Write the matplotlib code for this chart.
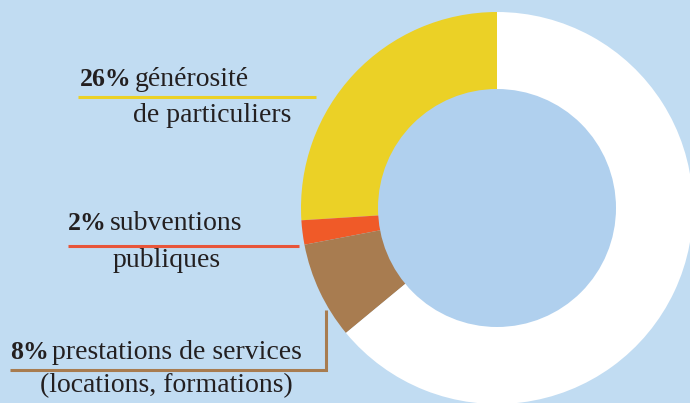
import matplotlib.pyplot as plt
from matplotlib.patches import Circle

# Donut data (share in %), drawn from the top, going counter-clockwise
categories = ['générosité de particuliers', 'subventions publiques',
              'prestations de services', 'autres']
values = [26, 2, 8, 64]
colors = ['#ebd126', '#f05a28', '#a87c50', '#ffffff']

# label lines: bold percentage, rest of first line, second line
pct_labels = ['26%', '2%', '8%']
line1 = ['générosité', 'subventions', 'prestations de services']
line2 = ['de particuliers', 'publiques', '(locations, formations)']

BG = '#c1dcf2'
INNER = '#b0d0ee'
TEXT = '#231f20'
FONT = 'Liberation Serif'

W, H = 690, 403
fig = plt.figure(figsize=(W / 100, H / 100), dpi=100)
fig.patch.set_facecolor(BG)
ax = fig.add_axes([0, 0, 1, 1])
ax.set_facecolor(BG)

# pixel-like coordinates, y going down
cx, cy, r_out, r_in = 497, 208, 196, 119
ax.pie(values, colors=colors, center=(cx, cy), radius=r_out,
       startangle=-90, counterclock=False,
       wedgeprops=dict(linewidth=0))
ax.add_patch(Circle((cx, cy), r_in, facecolor=INNER, edgecolor='none'))

ax.set_xlim(0, W)
ax.set_ylim(H, 0)
ax.set_aspect('equal')
ax.axis('off')

# text layout per label: (x of first line, baseline 1, x of second line, baseline 2)
text_pos = [(80, 86, 133, 122), (68, 230, 113, 267), (10, 359, 40, 392)]
line_cols = ['#ebd126', '#e8553a', '#a87c50']
fs = 20

fig.canvas.draw()
renderer = fig.canvas.get_renderer()
inv = ax.transData.inverted()
for pct, t1, t2, (x1, y1, x2, y2) in zip(pct_labels, line1, line2, text_pos):
    b = ax.text(x1, y1, pct, fontsize=fs - 1.5, fontweight='bold', family=FONT,
                color=TEXT, va='baseline', ha='left')
    bb = b.get_window_extent(renderer)
    xr = inv.transform((bb.x1, bb.y0))[0]
    ax.text(xr + 3, y1, t1, fontsize=fs, family=FONT, color=TEXT,
            va='baseline', ha='left')
    ax.text(x2, y2, t2, fontsize=fs, family=FONT, color=TEXT,
            va='baseline', ha='left')

# underline rules linking the labels to the ring
ax.plot([78, 316], [97, 97], color=line_cols[0], lw=2.2, solid_capstyle='butt')
ax.plot([68, 299], [246, 246], color=line_cols[1], lw=2.2, solid_capstyle='butt')
ax.plot([10, 326, 326], [370, 370, 310], color=line_cols[2], lw=2.2,
        solid_capstyle='butt', solid_joinstyle='miter')

fig.savefig('out.png', dpi=100, facecolor=BG)
